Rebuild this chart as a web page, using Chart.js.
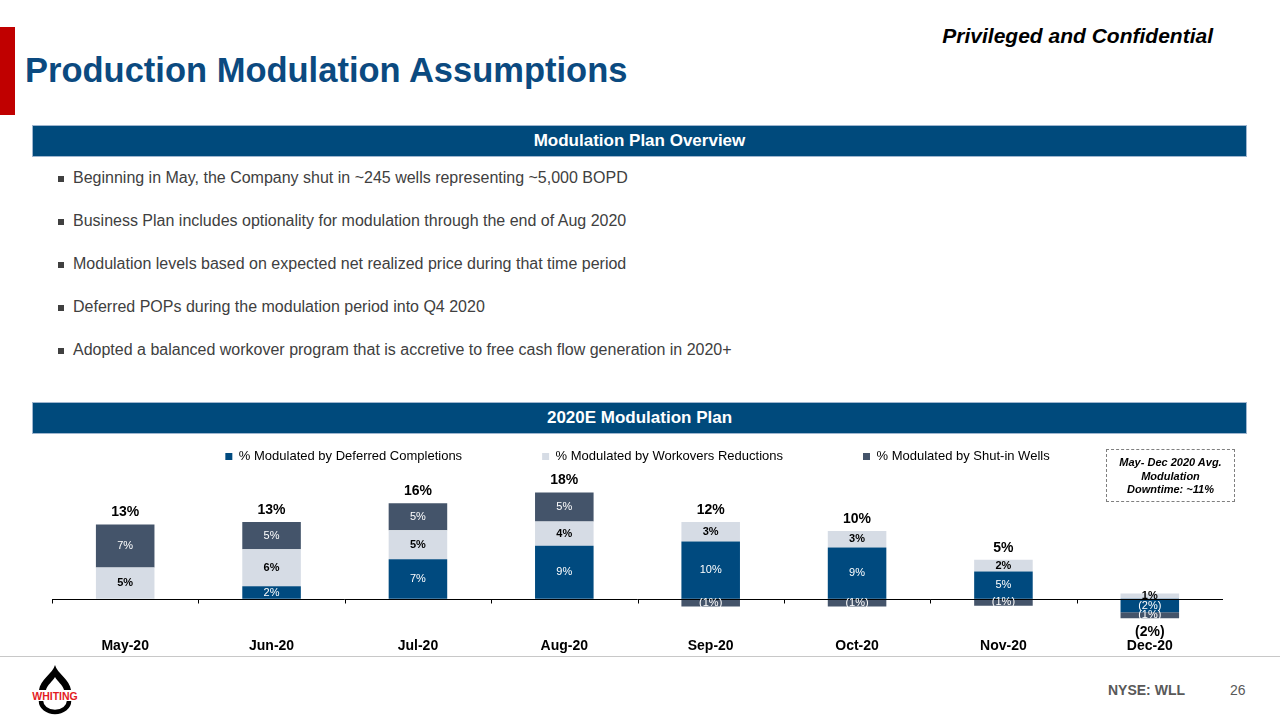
<!DOCTYPE html>
<html>
<head>
<meta charset="utf-8">
<script src="https://cdn.jsdelivr.net/npm/chart.js@4"></script>
<style>
  html, body { margin: 0; padding: 0; background: #fff; }
  body { width: 1280px; height: 720px; position: relative; overflow: hidden; font-family: Arial, "Liberation Sans", sans-serif; }
  .abs { position: absolute; }
  .redbar { left: 0; top: 27px; width: 15px; height: 88px; background: #C00000; }
  .title { left: 25px; top: 51px; font-size: 34.5px; font-weight: bold; color: #0B4A80; white-space: nowrap; }
  .conf { right: 67px; top: 24px; font-size: 21px; font-weight: bold; font-style: italic; color: #000; white-space: nowrap; }
  .band { left: 32px; width: 1213px; height: 30px; background: #004A7C; border: 1px solid #9FB6CF;
          color: #fff; font-weight: bold; font-size: 17px; text-align: center; line-height: 30px; }
  .bullets { left: 58px; top: 166px; margin: 0; padding: 0; list-style: none; font-size: 16px; color: #404040; }
  .bullets li { position: relative; padding-left: 15px; height: 43px; line-height: 24px; white-space: nowrap; }
  .bullets li::before { content: ""; position: absolute; left: 0; top: 10px; width: 6px; height: 6px; background: #404040; }
  .note { left: 1106px; top: 449px; width: 129px; height: 53px; border: 1px dashed #7F7F7F;
          font-size: 11px; font-weight: bold; font-style: italic; text-align: center; line-height: 13.5px;
          box-sizing: border-box; padding-top: 6px; color: #000; z-index: 2; }
  .chartbox { left: 52px; top: 370px; width: 1171px; height: 291px; z-index: 1; }
  .footline { left: 0; top: 656px; width: 1280px; height: 1px; background: #C8C8C8; }
  .nyse { left: 1108px; top: 682px; font-size: 14px; font-weight: bold; color: #595959; }
  .page { left: 1230px; top: 682px; font-size: 14px; color: #595959; }
</style>
</head>
<body>
<div class="abs redbar"></div>
<div class="abs title">Production Modulation Assumptions</div>
<div class="abs conf">Privileged and Confidential</div>

<div class="abs band" style="top:125px;">Modulation Plan Overview</div>
<ul class="abs bullets">
  <li>Beginning in May, the Company shut in ~245 wells representing ~5,000 BOPD</li>
  <li>Business Plan includes optionality for modulation through the end of Aug 2020</li>
  <li>Modulation levels based on expected net realized price during that time period</li>
  <li>Deferred POPs during the modulation period into Q4 2020</li>
  <li>Adopted a balanced workover program that is accretive to free cash flow generation in 2020+</li>
</ul>

<div class="abs band" style="top:402px;">2020E Modulation Plan</div>

<div class="abs footline"></div>
<div class="abs chartbox"><canvas id="chart"></canvas></div>
<div class="abs note">May- Dec 2020 Avg.<br>Modulation<br>Downtime: ~11%</div>

<svg class="abs" style="left:29px;top:662px;" width="54" height="54" viewBox="26 662 54 54">
  <path d="M52,665 C50,673 37,680 36,690 L68,690 C67,680 54,673 52,665 Z" fill="#000"/>
  <path d="M52,677 C50,681 44,685 43,690 L61,690 C60,685 54,681 52,677 Z" fill="#fff"/>
  <path d="M38,701 A14,11 0 0 0 66,701" fill="none" stroke="#000" stroke-width="4.5"/>
  <text x="52" y="700" text-anchor="middle" font-family="Arial, Liberation Sans, sans-serif" font-weight="bold" font-size="10.5" fill="#E31B23">WHITING</text>
</svg>
<div class="abs nyse">NYSE: WLL</div>
<div class="abs page">26</div>

<script>
// categories and series (percent of production)
const months = ['May-20', 'Jun-20', 'Jul-20', 'Aug-20', 'Sep-20', 'Oct-20', 'Nov-20', 'Dec-20'];
const deferredCompletions = [0, 2.1, 6.7, 9.0, 9.7, 8.7, 4.6, -2.3];
const workoverReductions = [5.3, 6.3, 4.9, 4.1, 3.3, 2.8, 2.0, 0.9];
const shutInWells = [7.3, 4.6, 4.6, 4.9, -1.3, -1.3, -1.2, -1.0];
const seriesNames = ['% Modulated by Deferred Completions', '% Modulated by Workovers Reductions', '% Modulated by Shut-in Wells'];

const FONT = 'Arial, "Liberation Sans", sans-serif';
Chart.defaults.font.family = FONT;
Chart.defaults.color = '#000';

// percent text, negatives in parentheses
const fmtPct = v => {
    const r = Math.round(Math.abs(v));
    return v < 0 ? `(${r}%)` : `${r}%`;
};

// zero axis line, segment labels and stack totals
const stackLabels = {
    id: 'stackLabels',
    afterDatasetsDraw(chart) {
        const { ctx, chartArea, scales: { x, y } } = chart;
        ctx.save();

        const y0 = Math.round(y.getPixelForValue(0)) + 0.5;
        const step = x.getPixelForValue(1) - x.getPixelForValue(0);
        ctx.strokeStyle = '#000';
        ctx.lineWidth = 1;
        ctx.beginPath();
        ctx.moveTo(chartArea.left, y0);
        ctx.lineTo(chartArea.right, y0);
        for (let i = 0; i <= months.length; i++) {
            const px = Math.round(x.getPixelForValue(0) - step / 2 + i * step) + 0.5;
            ctx.moveTo(px, y0);
            ctx.lineTo(px, y0 + 4);
        }
        ctx.stroke();

        ctx.textAlign = 'center';
        ctx.textBaseline = 'middle';
        const styles = [
            { color: '#fff', font: `11px ${FONT}` },
            { color: '#000', font: `bold 11px ${FONT}` },
            { color: '#fff', font: `11px ${FONT}` }
        ];
        chart.data.datasets.forEach((ds, di) => {
            const meta = chart.getDatasetMeta(di);
            meta.data.forEach((bar, j) => {
                const v = ds.data[j];
                if (!v) return;
                ctx.fillStyle = styles[di].color;
                ctx.font = styles[di].font;
                ctx.fillText(fmtPct(v), bar.x, (bar.y + bar.base) / 2);
            });
        });

        ctx.font = `bold 14px ${FONT}`;
        ctx.fillStyle = '#000';
        months.forEach((m, j) => {
            const vals = chart.data.datasets.map(ds => ds.data[j]);
            const total = vals.reduce((a, b) => a + b, 0);
            const pos = vals.filter(v => v > 0).reduce((a, b) => a + b, 0);
            const neg = vals.filter(v => v < 0).reduce((a, b) => a + b, 0);
            const px = x.getPixelForValue(j);
            if (total >= 0) {
                ctx.fillText(fmtPct(total), px, y.getPixelForValue(pos) - 12);
            } else {
                ctx.fillText(fmtPct(total), px, y.getPixelForValue(neg) + 14);
            }
        });
        ctx.restore();
    }
};

const ctx = document.getElementById('chart').getContext('2d');
new Chart(ctx, {
    type: 'bar',
    data: {
        labels: months,
        datasets: [
            { label: seriesNames[0], data: deferredCompletions, backgroundColor: '#004A7F' },
            { label: seriesNames[1], data: workoverReductions, backgroundColor: '#D6DCE5' },
            { label: seriesNames[2], data: shutInWells, backgroundColor: '#44546A' }
        ]
    },
    options: {
        responsive: true,
        maintainAspectRatio: false,
        animation: false,
        layout: { padding: 0 },
        datasets: {
            bar: { categoryPercentage: 1, barPercentage: 0.4 }
        },
        scales: {
            x: {
                stacked: true,
                grid: { display: false },
                border: { display: false },
                ticks: { font: { size: 14, weight: 'bold' }, color: '#000', padding: 6 }
            },
            y: {
                stacked: true,
                display: false,
                min: -4.31,
                max: 21.31
            }
        },
        plugins: {
            legend: {
                position: 'top',
                labels: {
                    boxWidth: 7,
                    boxHeight: 7,
                    padding: 80,
                    font: { size: 13 },
                    color: '#000'
                }
            },
            tooltip: { enabled: false }
        }
    },
    plugins: [stackLabels]
});
</script>
</body>
</html>
